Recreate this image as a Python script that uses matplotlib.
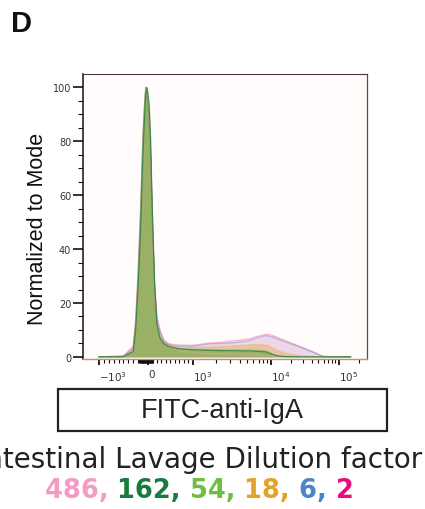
import numpy as np
import matplotlib
matplotlib.use("Agg")
import matplotlib.pyplot as plt
from matplotlib.patches import Rectangle
from matplotlib.ticker import FixedLocator, NullFormatter

fitc = [-1000, -500, -300, -250, -200, -150, -100, -60, -40, -20, 0, 30, 60, 100, 150,
        200, 270, 350, 450, 550, 700, 1000, 1600, 2500, 3300, 4500, 5400, 7200, 8800,
        10800, 13000, 17000, 27000, 42000, 59000, 80000, 150000]

# % of mode, one list per lavage dilution factor
h_2 = [0, 0.3, 4, 14, 32, 55, 83, 97, 100, 98, 93, 87, 74, 49, 27, 15, 10, 6.5, 5, 4.6,
       4.4, 4.3, 5.1, 5.5, 5.9, 6.4, 6.8, 7.8, 8.4, 7.9, 7.0, 5.9, 3.9, 1.9, 0.3, 0, 0]
h_6 = [0, 0.2, 3, 12, 29, 52, 81, 96, 100, 98, 94, 88, 75, 50, 27, 14, 9, 6, 4.5, 4.2,
       4.0, 3.9, 4.8, 5.0, 5.2, 5.7, 6.1, 7.3, 7.9, 7.3, 6.5, 5.4, 3.6, 1.7, 0.1, 0, 0]
h_18 = [0, 0.2, 3, 12, 30, 53, 82, 96, 100, 98, 94, 88, 74, 48, 24, 12, 7.5, 5.5, 4.5, 4,
        3.6, 3.5, 3.6, 3.8, 4.0, 4.3, 4.5, 4.6, 4.3, 3.2, 2.2, 1.2, 0.4, 0.1, 0, 0, 0]
h_54 = [0, 0, 2, 11, 28, 50, 80, 95, 100, 99, 95, 89, 76, 50, 24, 11, 6.5, 4.5, 3.8, 3.3,
        3.0, 2.8, 2.7, 2.6, 2.6, 2.6, 2.5, 2.4, 2.2, 1.0, 0.3, 0.1, 0, 0, 0, 0, 0]
h_162 = [0, 0, 2, 10, 26, 47, 76, 92, 98, 100, 98, 93, 81, 54, 27, 12, 7, 5, 4, 3.5,
         3.0, 2.6, 2.4, 2.3, 2.3, 2.2, 2.2, 2.0, 1.8, 0.8, 0.3, 0.1, 0, 0, 0, 0, 0]
h_486 = [0, 0.3, 4, 14, 32, 55, 84, 97, 100, 98, 93, 86, 72, 46, 22, 11, 7, 5.5, 4, 3,
         2.2, 1.6, 1.2, 1.0, 0.9, 0.8, 0.8, 0.7, 0.6, 0.3, 0.1, 0, 0, 0, 0, 0, 0]

dilutions = ["486", "162", "54", "18", "6", "2"]
colors = {"486": "#F39BC5", "162": "#197A3E", "54": "#6DBE45",
          "18": "#E3A229", "6": "#4A86C7", "2": "#EC0A7D"}
heights = {"486": h_486, "162": h_162, "54": h_54, "18": h_18, "6": h_6, "2": h_2}
fill_alpha = {"2": 0.13, "6": 0.08, "486": 0.28, "162": 0.33, "18": 0.35, "54": 0.42}
line_alpha = {"2": 0.3, "6": 0.4, "486": 0.4, "162": 0.7, "18": 0.4, "54": 0.5}
draw_order = ["2", "6", "486", "162", "18", "54"]

x_major = [-1000, 0, 1000, 10000, 100000]
x_major_labels = [r"$\mathregular{-10^{3}}$", "0", r"$\mathregular{10^{3}}$",
                  r"$\mathregular{10^{4}}$", r"$\mathregular{10^{5}}$"]


# biexponential-like display: linear around 0, log beyond +-1000
UA = np.array([-2.0, -1.0, 0.0, 1.0, 2.0, 3.0, 4.0])
PA = np.array([29.0, 99.0, 148.0, 193.0, 271.0, 339.0, 407.0])


def fwd(x):
    x = np.asarray(x, float)
    a = np.maximum(np.abs(x), 1000.0)
    u = np.where(np.abs(x) <= 1000, x / 1000.0, np.sign(x) * (1 + np.log10(a / 1000.0)))
    return np.interp(u, UA, PA)


def inv(p):
    u = np.interp(np.asarray(p, float), PA, UA)
    return np.where(np.abs(u) <= 1, u * 1000.0, np.sign(u) * 1000.0 * 10 ** (np.abs(u) - 1))


W, H = 425, 510
fig = plt.figure(figsize=(W / 100, H / 100), dpi=100)
ax = fig.add_axes([83 / W, 1 - 360 / H, (367 - 83) / W, (360 - 75) / H])
ax.set_facecolor("#fffcfb")
ax.set_xscale("function", functions=(fwd, inv))

for d in draw_order:
    ax.fill_between(fitc, heights[d], 0, color=colors[d], alpha=fill_alpha[d], lw=0)
for d in ["2", "486", "18", "6", "54", "162"]:
    ax.plot(fitc, heights[d], color=colors[d], lw=0.9, alpha=line_alpha[d])

ax.set_xlim(-1693, 262144)
ax.set_ylim(-0.8, 105)

ax.xaxis.set_major_locator(FixedLocator(x_major))
ax.set_xticklabels(x_major_labels)
minors = (list(range(-900, 0, 100)) + list(range(-180, 111, 10)) + list(range(100, 1000, 100))
          + list(range(2000, 10000, 1000)) + list(range(20000, 100000, 10000)) + [200000])
ax.xaxis.set_minor_locator(FixedLocator(minors))
ax.xaxis.set_minor_formatter(NullFormatter())
ax.set_yticks(range(0, 101, 20))
ax.set_yticks([v for v in range(0, 101, 5) if v % 20], minor=True)

ax.tick_params(axis="both", which="both", direction="out", colors="#111", labelcolor="#333")
ax.tick_params(axis="x", which="major", length=4.5, width=1.3, pad=2.5, labelsize=7.5)
ax.tick_params(axis="x", which="minor", length=2.6, width=0.8)
ax.tick_params(axis="y", which="major", length=7, width=1.2, pad=1.5, labelsize=7)
ax.tick_params(axis="y", which="minor", length=3.5, width=0.8)
for lab in ax.get_xticklabels():
    lab.set_horizontalalignment("left")

ax.spines["left"].set_color("#111")
ax.spines["left"].set_linewidth(1.1)
ax.spines["top"].set_color("#4a3a35")
ax.spines["top"].set_linewidth(0.8)
ax.spines["right"].set_color("#7a3f2a")
ax.spines["right"].set_linewidth(0.9)
ax.spines["bottom"].set_color("#d08a66")
ax.spines["bottom"].set_linewidth(1.0)

fig.text(38 / W, 1 - 229 / H, "Normalized to Mode", rotation=90, ha="center", va="center",
         fontsize=15.5, family="Liberation Sans", color="#111")
fig.text(11 / W, 1 - 10 / H, "D", ha="left", va="top", fontsize=21, fontweight="bold",
         family="Liberation Sans", color="#111")

fig.add_artist(Rectangle((58 / W, 1 - 432 / H), (387 - 58) / W, (432 - 390) / H,
                         transform=fig.transFigure, fill=False, lw=1.6, ec="#222"))
fig.text(222 / W, 1 - 418 / H, "FITC-anti-IgA", ha="center", va="baseline",
         fontsize=19.5, family="Liberation Sans", color="#222")
fig.text(200 / W, 1 - 468 / H, "Intestinal Lavage Dilution factor", ha="center",
         va="baseline", fontsize=20, family="DejaVu Sans", color="#222")

# coloured dilution list, centred as a whole
pieces = [d + ", " for d in dilutions[:-1]] + [dilutions[-1]]
renderer = fig.canvas.get_renderer()
texts, widths = [], []
for p, d in zip(pieces, dilutions):
    t = fig.text(0, 1 - 498 / H, p, ha="left", va="baseline", fontsize=18.5,
                 fontweight="bold", family="DejaVu Sans", color=colors[d])
    texts.append(t)
    widths.append(t.get_window_extent(renderer).width)
x0 = 199 - sum(widths) / 2
for t, w in zip(texts, widths):
    t.set_x(x0 / W)
    x0 += w

fig.savefig("out.png", dpi=100)
